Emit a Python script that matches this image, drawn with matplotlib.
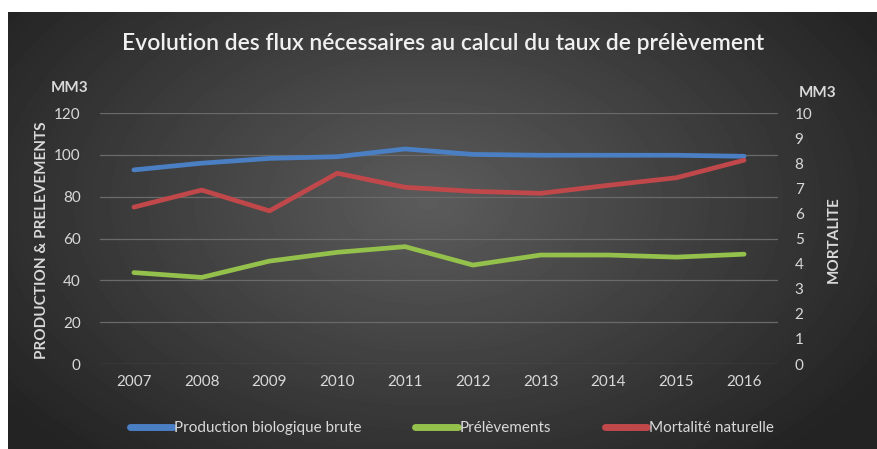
import numpy as np
import matplotlib.pyplot as plt

plt.rcParams['font.family'] = ['Lato', 'DejaVu Sans']

years = ['2007', '2008', '2009', '2010', '2011', '2012', '2013', '2014', '2015', '2016']
production = [92.8, 96.0, 98.3, 99.1, 102.8, 100.2, 99.8, 99.8, 99.8, 99.3]
prelevements = [43.7, 41.4, 49.2, 53.4, 56.1, 47.3, 52.1, 52.1, 51.1, 52.5]
mortalite = [6.25, 6.93, 6.1, 7.6, 7.04, 6.88, 6.8, 7.12, 7.42, 8.12]

W, H = 877, 449
fig = plt.figure(figsize=(W / 100, H / 100), dpi=100)
fig.patch.set_facecolor('white')

# radial gradient background
bg = fig.add_axes([8 / W, 0, 1 - 8 / W, 1 - 12 / H])
bg.axis('off')
yy, xx = np.mgrid[0:437, 0:869]
r = np.sqrt(((xx - 420) / 500.0) ** 2 + ((yy - 190) / 320.0) ** 2)
shade = np.clip(0.36 - 0.21 * r, 0.14, 0.36)
bg.imshow(shade, cmap='gray', vmin=0, vmax=1, aspect='auto', interpolation='bilinear')

ax = fig.add_axes([100 / W, 1 - 364 / H, 678 / W, 251 / H])
ax.patch.set_alpha(0)
ax2 = ax.twinx()
ax2.patch.set_alpha(0)

x = np.arange(len(years))
txt = '#d9d9d9'
ax.plot(x, production, color='#4a7fc4', lw=3.4, solid_capstyle='round', label='Production biologique brute')
ax.plot(x, prelevements, color='#94c04c', lw=3.4, solid_capstyle='round', label='Prélèvements')
ax2.plot(x, mortalite, color='#c0484a', lw=3.4, solid_capstyle='round', label='Mortalité naturelle')

ax.set_xlim(-0.5, 9.5)
ax.set_ylim(0, 120)
ax.set_yticks(range(0, 121, 20))
ax2.set_ylim(0, 10)
ax2.set_yticks(range(0, 11))
ax.set_xticks(x)
ax.set_xticklabels(years)
ax.grid(axis='y', color='#6a6a6a', lw=0.9)
ax.set_axisbelow(True)
for a in (ax, ax2):
    for s in a.spines.values():
        s.set_visible(False)
    a.tick_params(length=0, colors=txt, labelsize=11)
ax.tick_params(axis='y', pad=14)
ax.tick_params(axis='x', pad=8)
ax2.tick_params(axis='y', pad=12)

fig.text(443 / W, 1 - 43 / H, 'Evolution des flux nécessaires au calcul du taux de prélèvement',
         color='#f0f0f0', fontsize=16.5, fontweight='semibold', ha='center', va='center')
fig.text(70 / W, 1 - 88 / H, 'MM3', color=txt, fontsize=11, fontweight='bold', ha='center', va='center')
fig.text(818 / W, 1 - 93 / H, 'MM3', color=txt, fontsize=11, fontweight='bold', ha='center', va='center')
fig.text(42 / W, 1 - 240 / H, 'PRODUCTION & PRELEVEMENTS', color=txt, fontsize=11, fontweight='bold',
         rotation=90, ha='center', va='center')
fig.text(834 / W, 1 - 240 / H, 'MORTALITE', color=txt, fontsize=11, fontweight='bold',
         rotation=90, ha='center', va='center')

h1, l1 = ax.get_legend_handles_labels()
h2, l2 = ax2.get_legend_handles_labels()
leg = fig.legend(h1 + h2, l1 + l2, loc='center', bbox_to_anchor=(452 / W, 1 - 428 / H), ncol=3,
                 frameon=False, fontsize=11, handlelength=2.8, handletextpad=0.1, columnspacing=3.5)
for t in leg.get_texts():
    t.set_color(txt)
for l in leg.get_lines():
    l.set_linewidth(5)
    l.set_solid_capstyle('round')

plt.savefig('out.png', dpi=100)
